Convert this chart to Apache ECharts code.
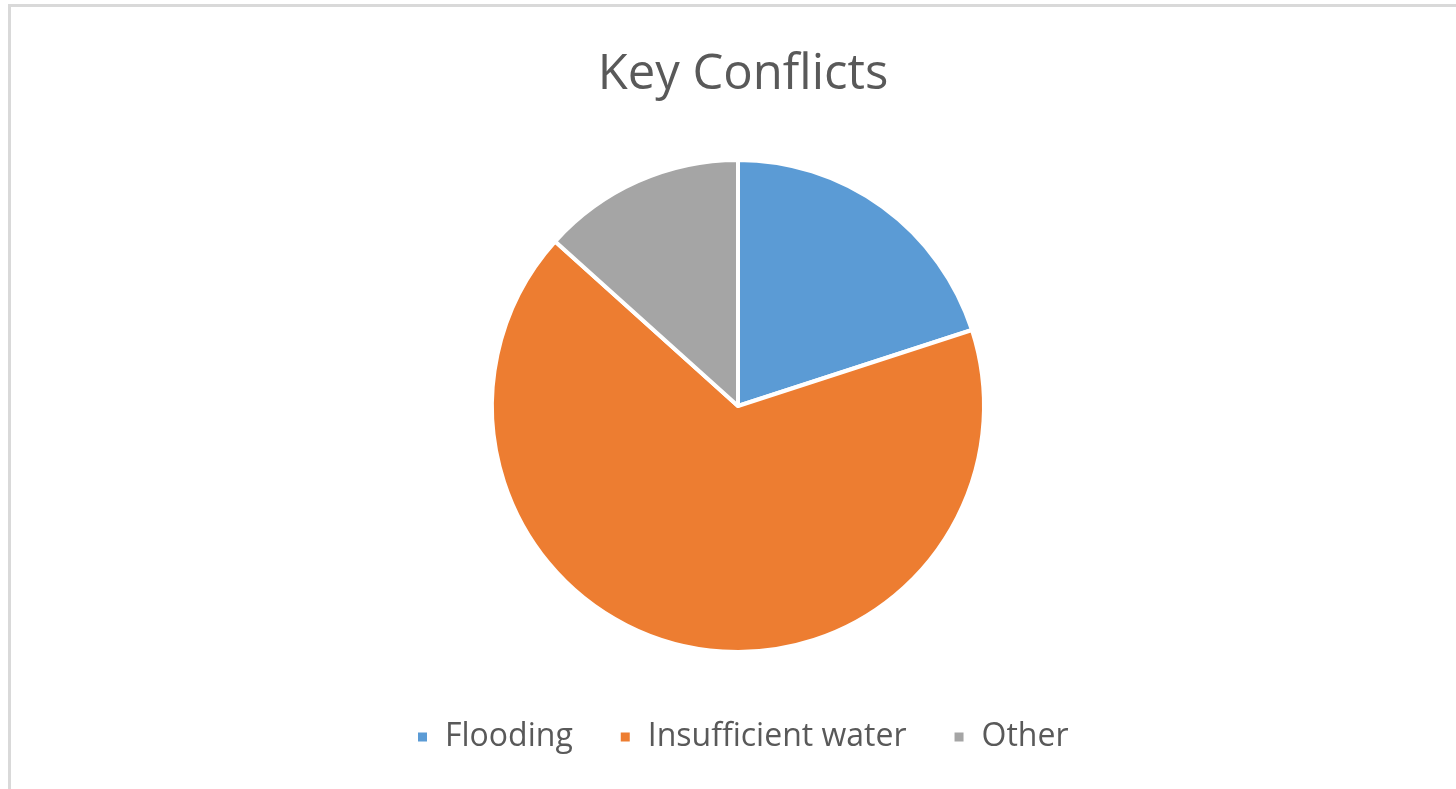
<!DOCTYPE html>
<html>
<head>
<meta charset="utf-8">
<script src="https://cdn.jsdelivr.net/npm/echarts@6/dist/echarts.min.js"></script>
<style>
html,body{margin:0;padding:0;background:#fff;}
#chart{width:1456px;height:789px;}
</style>
</head>
<body>
<div id="chart"></div>
<script>
const titleText = 'Key Conflicts';
const categories = ['Flooding', 'Insufficient water', 'Other'];
const values = [3, 10, 2];
const colors = ['#5b9bd5', '#ed7d31', '#a5a5a5'];

const chart = echarts.init(document.getElementById('chart'));
const FONT = '"Open Sans", "Noto Sans", sans-serif';
chart.setOption({
  backgroundColor: '#ffffff',
  animation: false,
  title: {
    text: titleText,
    left: 738, top: 46,
    textAlign: 'center',
    textStyle: {fontFamily: FONT, fontSize: 49, fontWeight: 'normal', color: '#595959'}
  },
  legend: {
    top: 716,
    left: 411,
    icon: 'rect',
    itemWidth: 11, itemHeight: 11,
    itemGap: 46,
    textStyle: {fontFamily: FONT, fontSize: 32, color: '#595959', padding: [0, 0, 0, 12]},
    data: categories
  },
  graphic: [{
    type: 'rect',
    shape: {x: 9.5, y: 5.5, width: 1500, height: 900},
    style: {fill: 'none', stroke: '#d9d9d9', lineWidth: 3},
    silent: true
  }],
  series: [{
    type: 'pie',
    center: [738, 406],
    radius: 246,
    startAngle: 90,
    clockwise: true,
    label: {show: false},
    labelLine: {show: false},
    itemStyle: {borderColor: '#ffffff', borderWidth: 4},
    data: categories.map((c, i) => ({name: c, value: values[i], itemStyle: {color: colors[i]}}))
  }]
});
</script>
</body>
</html>
